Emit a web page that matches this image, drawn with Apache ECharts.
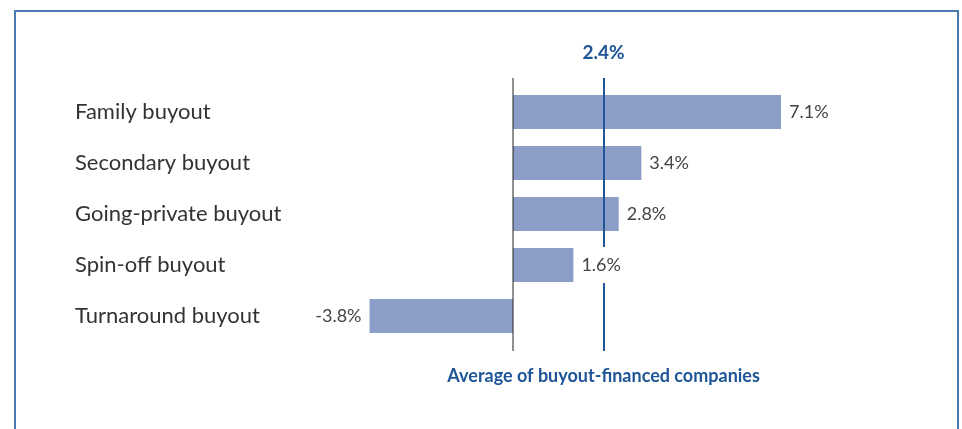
<!DOCTYPE html>
<html>
<head>
<meta charset="utf-8">
<script src="https://cdn.jsdelivr.net/npm/echarts@6/dist/echarts.min.js"></script>
<style>
  html, body { margin: 0; padding: 0; background: #fff; }
  #chart { width: 962px; height: 429px; }
</style>
</head>
<body>
<div id="chart"></div>
<script>
// categories and values (growth, %)
const categories = ['Family buyout', 'Secondary buyout', 'Going-private buyout', 'Spin-off buyout', 'Turnaround buyout']
const values = [7.1, 3.4, 2.8, 1.6, -3.8]
const average = 2.4
const averageText = 'Average of buyout-financed companies'

const xMin = -4
const xMax = 8
const gridLeft = 362
const gridRight = 147

const myChart = echarts.init(document.getElementById('chart'))

// labels sit on the left for negative values
const labelData = values.map(v => ({
  value: v,
  label: { position: v < 0 ? 'left' : 'right' }
}))

myChart.setOption({
  animation: false,
  textStyle: { fontFamily: 'Lato' },
  graphic: [
    {
      type: 'rect',
      shape: { x: 15, y: 11, width: 943, height: 440 },
      style: { fill: 'none', stroke: '#4a7bb2', lineWidth: 2 }
    }
  ],
  grid: [
    { left: gridLeft, right: gridRight, top: 86.5, bottom: 87.5 },
    { left: gridLeft, right: gridRight, top: 78, bottom: 78 }
  ],
  xAxis: [
    { gridIndex: 0, type: 'value', min: xMin, max: xMax, show: false },
    { gridIndex: 1, type: 'value', min: xMin, max: xMax, show: false }
  ],
  yAxis: [
    {
      gridIndex: 0,
      type: 'category',
      data: categories,
      inverse: true,
      axisLine: { show: false, onZero: false },
      axisTick: { show: false },
      splitLine: { show: false },
      axisLabel: {
        align: 'left',
        margin: gridLeft - 75,
        fontSize: 22,
        color: '#333',
        fontFamily: 'Lato'
      }
    },
    { gridIndex: 1, type: 'value', min: 0, max: 1, show: false }
  ],
  series: [
    {
      type: 'bar',
      xAxisIndex: 0,
      yAxisIndex: 0,
      data: values,
      barWidth: 34,
      itemStyle: { color: '#8c9dc8' },
      z: 2
    },
    {
      // zero axis line
      type: 'line',
      xAxisIndex: 1,
      yAxisIndex: 1,
      data: [[0, 0], [0, 1]],
      symbol: 'none',
      lineStyle: { color: '#222', width: 1 },
      z: 3
    },
    {
      // average line
      type: 'line',
      xAxisIndex: 1,
      yAxisIndex: 1,
      data: [],
      markLine: {
        silent: true,
        symbol: 'none',
        lineStyle: { color: '#1f5699', width: 2, type: 'solid' },
        data: [
          {
            xAxis: average,
            label: {
              position: 'end',
              distance: 16,
              formatter: average.toFixed(1) + '%',
              fontSize: 19,
              fontWeight: 'bold',
              color: '#1d5596',
              fontFamily: 'Lato'
            }
          },
          {
            xAxis: average,
            label: {
              position: 'start',
              distance: 16,
              formatter: averageText,
              fontSize: 18,
              fontWeight: 'bold',
              color: '#1d5596',
              fontFamily: 'Lato'
            }
          }
        ]
      },
      z: 4
    },
    {
      // value labels on white boxes, drawn above the average line
      type: 'bar',
      xAxisIndex: 0,
      yAxisIndex: 0,
      data: labelData,
      barWidth: 34,
      barGap: '-100%',
      itemStyle: { color: 'rgba(0,0,0,0)' },
      label: {
        show: true,
        distance: 5,
        padding: [9, 3],
        backgroundColor: '#fff',
        fontSize: 18,
        color: '#444',
        fontFamily: 'Lato',
        formatter: p => p.value.toFixed(1) + '%'
      },
      z: 5
    }
  ]
})
</script>
</body>
</html>
